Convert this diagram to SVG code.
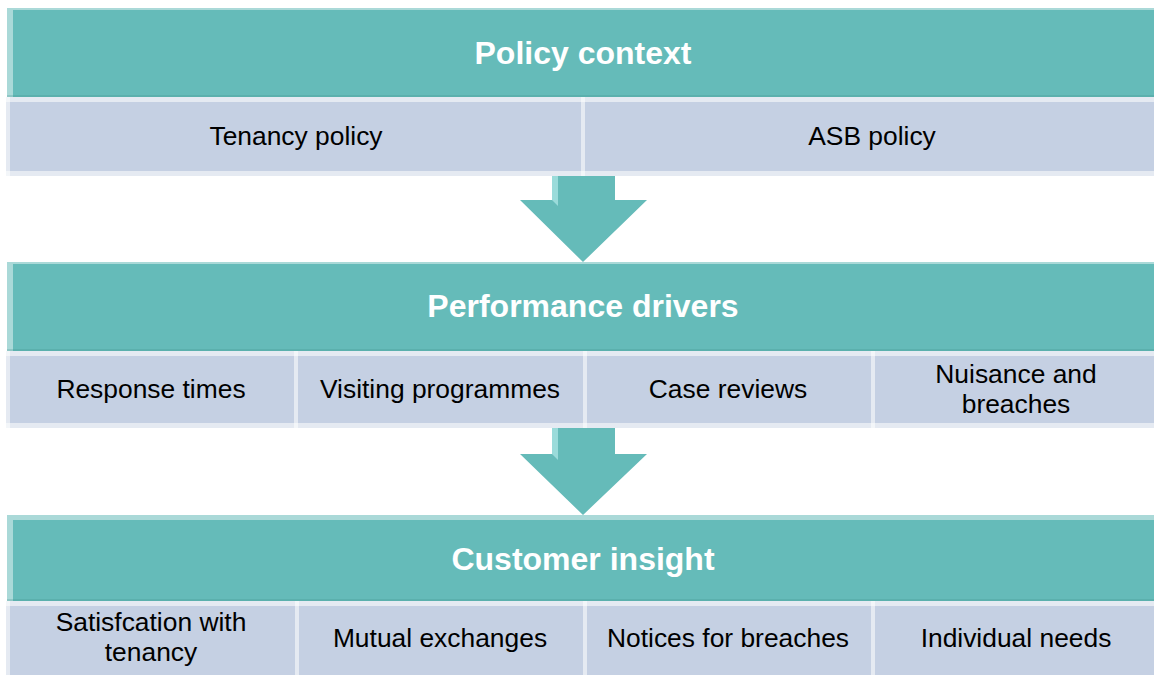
<svg xmlns="http://www.w3.org/2000/svg" width="1154" height="675" viewBox="0 0 1154 675">
<style>
.hdr{fill:#65BBB9}
.sub{fill:#C5D0E3}
.hl{fill:#FFFFFF;opacity:0.45}
.sh{fill:#3E8F8C;opacity:0.25}
.subhl{fill:#FFFFFF;opacity:0.55}
.ht{font-family:"Liberation Sans",Arial,sans-serif;font-weight:bold;font-size:32px;fill:#FFFFFF;text-anchor:middle}
.st{font-family:"Liberation Sans",Arial,sans-serif;font-size:26.4px;fill:#000000;text-anchor:middle}
.arr{fill:#65BBB9}
.arrhl{fill:#A8E4E2;opacity:0.8}
</style>
<rect width="1154" height="675" fill="#FFFFFF"/>

<g id="connectors">
  <g id="arrow1">
    <polygon class="arr" points="552,176 615,176 615,200 647,200 583,262 520,200 552,200"/>
    <polygon class="arrhl" points="552,176 558,176 558,206 552,200"/>
  </g>
  <g id="arrow2">
    <polygon class="arr" points="552,428 615,428 615,454 647,454 583,515 520,454 552,454"/>
    <polygon class="arrhl" points="552,428 558,428 558,460 552,454"/>
  </g>
</g>

<g id="policy-context">
  <rect class="hdr" x="7" y="8" width="1147" height="89"/>
  <polygon class="hl" points="7,8 1154,8 1154,10 13,10 13,97 7,97"/>
  <polygon class="sh" points="7,95 1154,95 1154,97 7,97"/>
  <text class="ht" x="583" y="64">Policy context</text>
</g>
<g id="tenancy-policy">
  <rect class="sub" x="6" y="97" width="575" height="79"/>
  <rect class="subhl" x="6" y="97" width="575" height="5"/>
  <rect class="subhl" x="6" y="97" width="4" height="79"/>
  <rect class="subhl" x="6" y="171" width="575" height="5" opacity="0.3"/>
  <text class="st" x="296" y="145">Tenancy policy</text>
</g>
<g id="asb-policy">
  <rect class="sub" x="581" y="97" width="573" height="79"/>
  <rect class="subhl" x="581" y="97" width="573" height="5"/>
  <rect class="subhl" x="581" y="97" width="4" height="79"/>
  <rect class="subhl" x="581" y="171" width="573" height="5" opacity="0.3"/>
  <text class="st" x="872" y="145">ASB policy</text>
</g>

<g id="performance-drivers">
  <rect class="hdr" x="7" y="262" width="1147" height="89"/>
  <polygon class="hl" points="7,262 1154,262 1154,264 13,264 13,351 7,351"/>
  <polygon class="sh" points="7,349 1154,349 1154,351 7,351"/>
  <text class="ht" x="583" y="317">Performance drivers</text>
</g>
<g id="response-times">
  <rect class="sub" x="6" y="351" width="288" height="77"/>
  <rect class="subhl" x="6" y="351" width="288" height="5"/>
  <rect class="subhl" x="6" y="351" width="4" height="77"/>
  <rect class="subhl" x="6" y="423" width="288" height="5" opacity="0.3"/>
  <text class="st" x="151" y="398">Response times</text>
</g>
<g id="visiting-programmes">
  <rect class="sub" x="294" y="351" width="289" height="77"/>
  <rect class="subhl" x="294" y="351" width="289" height="5"/>
  <rect class="subhl" x="294" y="351" width="4" height="77"/>
  <rect class="subhl" x="294" y="423" width="289" height="5" opacity="0.3"/>
  <text class="st" x="440" y="398">Visiting programmes</text>
</g>
<g id="case-reviews">
  <rect class="sub" x="583" y="351" width="288" height="77"/>
  <rect class="subhl" x="583" y="351" width="288" height="5"/>
  <rect class="subhl" x="583" y="351" width="4" height="77"/>
  <rect class="subhl" x="583" y="423" width="288" height="5" opacity="0.3"/>
  <text class="st" x="728" y="398">Case reviews</text>
</g>
<g id="nuisance-breaches">
  <rect class="sub" x="871" y="351" width="283" height="77"/>
  <rect class="subhl" x="871" y="351" width="283" height="5"/>
  <rect class="subhl" x="871" y="351" width="4" height="77"/>
  <rect class="subhl" x="871" y="423" width="283" height="5" opacity="0.3"/>
  <text class="st" x="1016" y="383">Nuisance and</text>
  <text class="st" x="1016" y="413">breaches</text>
</g>

<g id="customer-insight">
  <rect class="hdr" x="7" y="515" width="1147" height="86"/>
  <polygon class="hl" points="7,515 1154,515 1154,520 13,520 13,601 7,601"/>
  <polygon class="sh" points="7,599 1154,599 1154,601 7,601"/>
  <text class="ht" x="583" y="570">Customer insight</text>
</g>
<g id="satisfaction-tenancy">
  <rect class="sub" x="6" y="601" width="289" height="74"/>
  <rect class="subhl" x="6" y="601" width="289" height="5"/>
  <rect class="subhl" x="6" y="601" width="4" height="74"/>
  <text class="st" x="151" y="631">Satisfcation with</text>
  <text class="st" x="151" y="661">tenancy</text>
</g>
<g id="mutual-exchanges">
  <rect class="sub" x="295" y="601" width="288" height="74"/>
  <rect class="subhl" x="295" y="601" width="288" height="5"/>
  <rect class="subhl" x="295" y="601" width="4" height="74"/>
  <text class="st" x="440" y="647">Mutual exchanges</text>
</g>
<g id="notices-breaches">
  <rect class="sub" x="583" y="601" width="288" height="74"/>
  <rect class="subhl" x="583" y="601" width="288" height="5"/>
  <rect class="subhl" x="583" y="601" width="4" height="74"/>
  <text class="st" x="728" y="647">Notices for breaches</text>
</g>
<g id="individual-needs">
  <rect class="sub" x="871" y="601" width="283" height="74"/>
  <rect class="subhl" x="871" y="601" width="283" height="5"/>
  <rect class="subhl" x="871" y="601" width="4" height="74"/>
  <text class="st" x="1016" y="647">Individual needs</text>
</g>
</svg>
